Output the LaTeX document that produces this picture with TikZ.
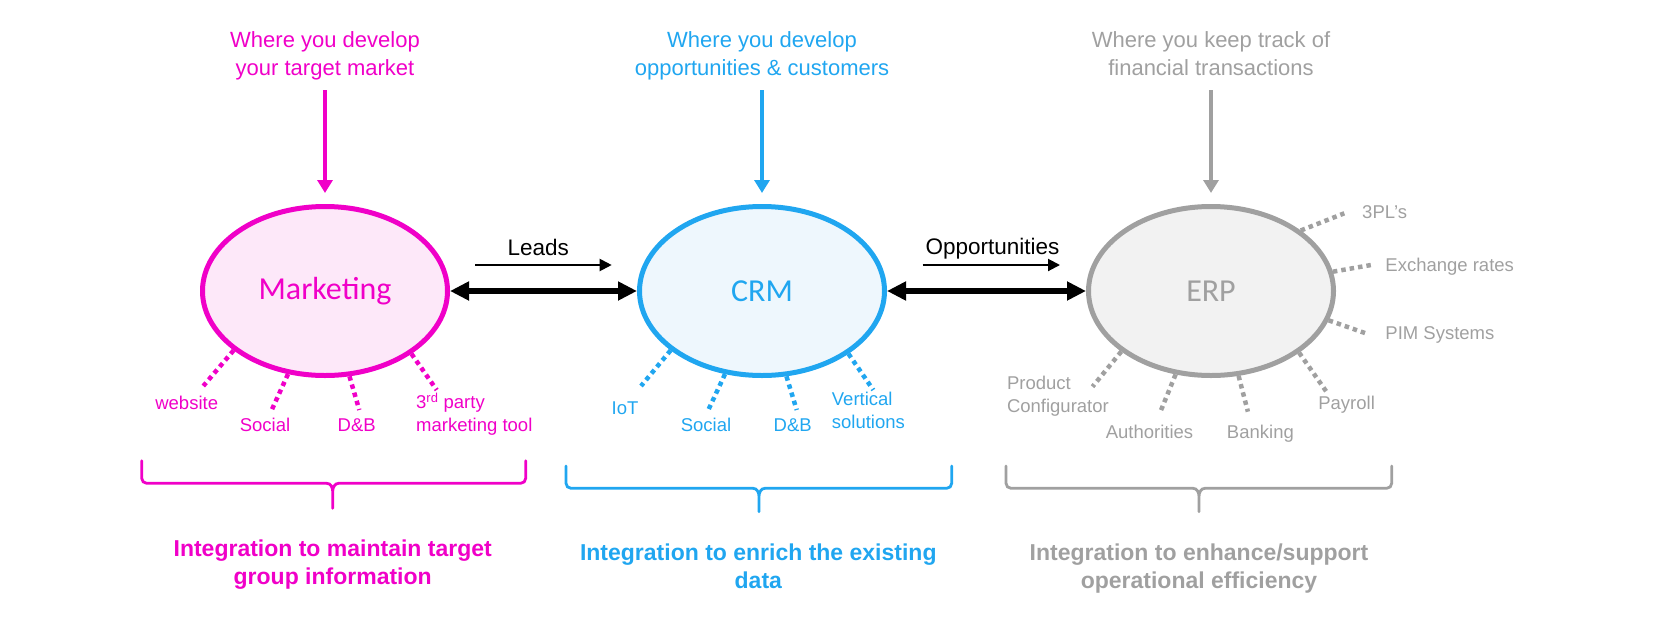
\documentclass[tikz,border=0pt]{standalone}
\usepackage{fontspec}
\setmainfont{Liberation Sans}
\newfontfamily\carlito{Carlito}
\usetikzlibrary{arrows.meta,shapes.geometric}
\definecolor{mag}{RGB}{240,0,200}
\definecolor{cy}{RGB}{32,166,240}
\definecolor{gr}{RGB}{160,160,160}
\definecolor{mkfill}{RGB}{253,232,249}
\definecolor{crmfill}{RGB}{238,247,253}
\definecolor{erpfill}{RGB}{242,242,242}
\newcommand\mybrace[6]{(#1,#4) -- (#1,#5-5) to[out=-90,in=180] (#1+5,#5) -- (#3-6,#5) to[out=0,in=90] (#3,#5+8) -- (#3,#6)
 (#3,#5+8) to[out=90,in=180] (#3+6,#5) -- (#2-5,#5) to[out=0,in=-90] (#2,#5-5) -- (#2,#4)}
\tikzset{
  ell/.style={ellipse, minimum width=245pt, minimum height=169pt, inner sep=0pt, line width=5pt, font=\carlito\fontsize{32}{38}\selectfont},
  toptxt/.style={align=center, anchor=base, inner sep=0pt, font=\fontsize{22}{28}\selectfont},
  bottxt/.style={align=center, anchor=base, inner sep=0pt, font=\bfseries\fontsize{23}{27.6}\selectfont},
  lbl/.style={inner sep=0pt, anchor=base, font=\fontsize{18.5}{22.5}\selectfont},
  lblw/.style={inner sep=0pt, anchor=base west, align=left, font=\fontsize{18.5}{22.5}\selectfont},
  spoke/.style={line width=4.5pt, dash pattern=on 4.5pt off 4pt},
  topar/.style={line width=3.3pt, -{Triangle[length=13pt,width=15pt]}, shorten >=11pt},
  dblar/.style={line width=5.5pt, {Triangle[length=19pt,width=18pt]}-{Triangle[length=19pt,width=18pt]}},
  thinar/.style={line width=2pt, -{Triangle[length=12pt,width=12pt]}},
  midtxt/.style={anchor=base, inner sep=0pt, font=\fontsize{22.5}{27}\selectfont},
  brk/.style={line width=2.8pt, line cap=round}
}
\begin{document}
\begin{tikzpicture}[x=1pt,y=-1pt]
\useasboundingbox (0,0) rectangle (1670,616);
% ellipses
\node[ell, draw=mag, fill=mkfill, text=mag] (mk) at (325,291) {Marketing};
\node[ell, draw=cy, fill=crmfill, text=cy] (crm) at (762,291) {CRM};
\node[ell, draw=gr, fill=erpfill, text=gr] (erp) at (1211,291) {ERP};
% top texts (base = last line)
\node[toptxt, text=mag] (t1) at (325,75.5) {Where you develop\\your target market};
\node[toptxt, text=cy] (t2) at (762,75.5) {Where you develop\\opportunities \& customers};
\node[toptxt, text=gr] (t3) at (1211,75.5) {Where you keep track of\\financial transactions};
\coordinate (a1) at (325,90);
\coordinate (a2) at (762,90);
\coordinate (a3) at (1211,90);
\draw[topar, draw=mag, fill=mag] (a1) -- (mk.north);
\draw[topar, draw=cy, fill=cy] (a2) -- (crm.north);
\draw[topar, draw=gr, fill=gr] (a3) -- (erp.north);
% double arrows
\draw[dblar] (mk.east) -- (crm.west);
\draw[dblar] (crm.east) -- (erp.west);
% thin arrows and labels
\node[midtxt] (leads) at (538.3,255) {Leads};
\node[midtxt] (opp) at (992.5,254.3) {Opportunities};
\coordinate (l1) at (475,265);
\coordinate (l2) at (611.7,265);
\coordinate (o1) at (922.7,265);
\coordinate (o2) at (1060,265);
\draw[thinar] (l1) -- (l2);
\draw[thinar] (o1) -- (o2);
% marketing spokes
\coordinate (m1) at (203.3,386);
\coordinate (m2) at (271.7,410);
\coordinate (m3) at (359.3,410);
\coordinate (m4) at (436.7,390);
\draw[spoke, mag] (mk.213.7) -- (m1);
\draw[spoke, mag] (mk.246.3) -- (m2);
\draw[spoke, mag] (mk.286) -- (m3);
\draw[spoke, mag] (mk.324.6) -- (m4);
\node[lbl, text=mag] (mw) at (186.7,409.3) {website};
\node[lbl, text=mag] (ms) at (265,431.5) {Social};
\node[lbl, text=mag] (md) at (356.7,431.5) {D\&B};
\node[lblw, text=mag] (mt) at (416,431) {3\textsuperscript{rd} party\\marketing tool};
% crm spokes
\coordinate (c1) at (641,386);
\coordinate (c2) at (708.3,410);
\coordinate (c3) at (796.7,410);
\coordinate (c4) at (873.3,390);
\draw[spoke, cy] (crm.213.9) -- (c1);
\draw[spoke, cy] (crm.246.1) -- (c2);
\draw[spoke, cy] (crm.286.2) -- (c3);
\draw[spoke, cy] (crm.324.5) -- (c4);
\node[lbl, text=cy] (ci) at (625,414.5) {IoT};
\node[lbl, text=cy] (cs) at (706,431) {Social};
\node[lbl, text=cy] (cd) at (792.7,431) {D\&B};
\node[lblw, text=cy] (cv) at (831.7,428.3) {Vertical\\solutions};
% erp spokes
\coordinate (e1) at (1344.3,213.3);
\coordinate (e2) at (1371,265);
\coordinate (e3) at (1365.7,333.3);
\coordinate (e4) at (1092.5,386.7);
\coordinate (e5) at (1160.4,411.7);
\coordinate (e6) at (1247.9,411.7);
\coordinate (e7) at (1326.4,391.7);
\draw[spoke, gr] (erp.34.2) -- (e1);
\draw[spoke, gr] (erp.9) -- (e2);
\draw[spoke, gr] (erp.346.7) -- (e3);
\draw[spoke, gr] (erp.214.7) -- (e4);
\draw[spoke, gr] (erp.247.4) -- (e5);
\draw[spoke, gr] (erp.288.4) -- (e6);
\draw[spoke, gr] (erp.325.2) -- (e7);
\node[lblw, text=gr] (e1l) at (1362,218) {3PL’s};
\node[lblw, text=gr] (e2l) at (1385.2,271.8) {Exchange rates};
\node[lblw, text=gr] (e3l) at (1385.2,339) {PIM Systems};
\node[lblw, text=gr] (e4l) at (1006.8,412.3) {Product\\Configurator};
\node[lbl, text=gr] (e5l) at (1149.5,438.3) {Authorities};
\node[lbl, text=gr] (e6l) at (1260.4,438.3) {Banking};
\node[lbl, text=gr] (e7l) at (1346.6,409.3) {Payroll};
% braces
\draw[brk, mag] \mybrace{141.7}{525.7}{332.7}{460.7}{483.3}{508.3};
\draw[brk, cy] \mybrace{566}{951.7}{759}{466}{488.3}{511.7};
\draw[brk, gr] \mybrace{1006}{1391.7}{1199}{466}{488.3}{511.7};
% bottom texts (base = last line)
\node[bottxt, text=mag] (b1) at (332.7,584) {Integration to maintain target\\group information};
\node[bottxt, text=cy] (b2) at (758.3,588.3) {Integration to enrich the existing\\data};
\node[bottxt, text=gr] (b3) at (1199,588.3) {Integration to enhance/support\\operational efficiency};
\end{tikzpicture}
\end{document}
